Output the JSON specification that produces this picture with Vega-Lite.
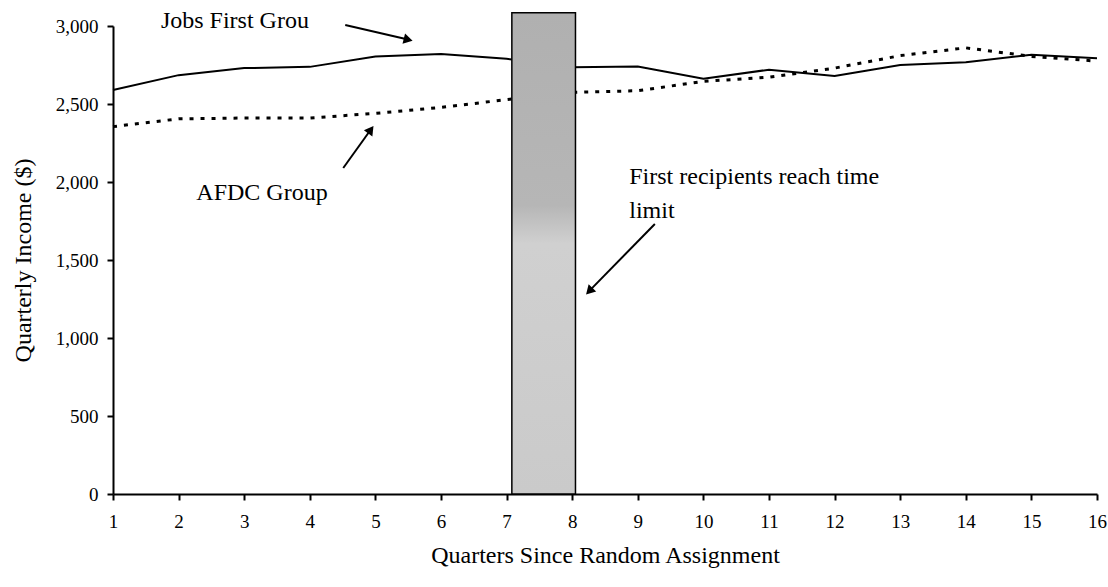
{
  "$schema": "https://vega.github.io/schema/vega-lite/v6.json",
  "width": 984,
  "height": 468,
  "autosize": "none",
  "padding": {"left": 113, "top": 26, "right": 11, "bottom": 93},
  "background": "white",
  "config": {
    "view": {"stroke": null},
    "font": "Liberation Serif",
    "axis": {"grid": false, "domainColor": "black", "domainWidth": 2, "tickColor": "black", "tickWidth": 2, "tickSize": 6, "labelColor": "black", "titleColor": "black", "labelFont": "Liberation Serif", "titleFont": "Liberation Serif", "labelFontSize": 19, "titleFontSize": 24, "titleFontWeight": "normal"}
  },
  "datasets": {
    "income": [
      {"q": 1, "group": "Jobs First", "income": 2590},
      {"q": 2, "group": "Jobs First", "income": 2685},
      {"q": 3, "group": "Jobs First", "income": 2730},
      {"q": 4, "group": "Jobs First", "income": 2738},
      {"q": 5, "group": "Jobs First", "income": 2805},
      {"q": 6, "group": "Jobs First", "income": 2820},
      {"q": 7, "group": "Jobs First", "income": 2790},
      {"q": 8, "group": "Jobs First", "income": 2735},
      {"q": 9, "group": "Jobs First", "income": 2740},
      {"q": 10, "group": "Jobs First", "income": 2662},
      {"q": 11, "group": "Jobs First", "income": 2720},
      {"q": 12, "group": "Jobs First", "income": 2680},
      {"q": 13, "group": "Jobs First", "income": 2750},
      {"q": 14, "group": "Jobs First", "income": 2768},
      {"q": 15, "group": "Jobs First", "income": 2816},
      {"q": 16, "group": "Jobs First", "income": 2794},
      {"q": 1, "group": "AFDC", "income": 2355},
      {"q": 2, "group": "AFDC", "income": 2405},
      {"q": 3, "group": "AFDC", "income": 2410},
      {"q": 4, "group": "AFDC", "income": 2410},
      {"q": 5, "group": "AFDC", "income": 2440},
      {"q": 6, "group": "AFDC", "income": 2478},
      {"q": 7, "group": "AFDC", "income": 2528},
      {"q": 8, "group": "AFDC", "income": 2575},
      {"q": 9, "group": "AFDC", "income": 2585},
      {"q": 10, "group": "AFDC", "income": 2645},
      {"q": 11, "group": "AFDC", "income": 2672},
      {"q": 12, "group": "AFDC", "income": 2730},
      {"q": 13, "group": "AFDC", "income": 2810},
      {"q": 14, "group": "AFDC", "income": 2860},
      {"q": 15, "group": "AFDC", "income": 2805},
      {"q": 16, "group": "AFDC", "income": 2775}
    ],
    "band": [{"start": 7.08, "end": 8.05, "bottom": 0, "top": 3085}]
  },
  "layer": [
    {
      "data": {"name": "income"},
      "transform": [{"filter": "datum.group === 'Jobs First'"}],
      "mark": {"type": "line", "color": "black", "strokeWidth": 2},
      "encoding": {
        "x": {"field": "q", "type": "quantitative", "title": "Quarters Since Random Assignment",
              "scale": {"domain": [1, 16], "nice": false, "zero": false},
              "axis": {"values": [1,2,3,4,5,6,7,8,9,10,11,12,13,14,15,16], "labelExpr": "format(datum.value, 'd')", "labelPadding": 12, "titlePadding": 12, "labelFlush": false,
                       "encode": {"ticks": {"update": {"y": {"value": -7}}}}}},
        "y": {"field": "income", "type": "quantitative", "title": "Quarterly Income ($)",
              "scale": {"domain": [0, 3000], "nice": false},
              "axis": {"values": [0,500,1000,1500,2000,2500,3000], "labelExpr": "format(datum.value, ',')", "labelPadding": 9, "titlePadding": 20,
                       "encode": {"ticks": {"update": {"x": {"value": 7}}}}}}
      }
    },
    {
      "data": {"name": "income"},
      "transform": [{"filter": "datum.group === 'AFDC'"}],
      "mark": {"type": "line", "color": "black", "strokeWidth": 3, "strokeDash": [4, 7]},
      "encoding": {
        "x": {"field": "q", "type": "quantitative"},
        "y": {"field": "income", "type": "quantitative"}
      }
    },
    {
      "data": {"name": "band"},
      "mark": {"type": "rect", "stroke": "black", "strokeWidth": 1.5,
               "fill": {"gradient": "linear", "x1": 0, "y1": 0, "x2": 0, "y2": 1,
                        "stops": [{"offset": 0, "color": "#b0b0b0"}, {"offset": 0.4, "color": "#b6b6b6"}, {"offset": 0.48, "color": "#d0d0d0"}, {"offset": 1, "color": "#cacaca"}]}},
      "encoding": {
        "x": {"field": "start", "type": "quantitative"},
        "x2": {"field": "end"},
        "y": {"field": "bottom", "type": "quantitative"},
        "y2": {"field": "top"}
      }
    },
    {
      "data": {"values": [{"label": "Jobs First Grou"}]},
      "mark": {"type": "text", "align": "left", "baseline": "middle", "fontSize": 24, "font": "Liberation Serif", "color": "black"},
      "encoding": {"text": {"field": "label"}, "x": {"datum": 1.73, "type": "quantitative"}, "y": {"datum": 3030, "type": "quantitative"}}
    },
    {
      "data": {"values": [{"label": "AFDC Group"}]},
      "mark": {"type": "text", "align": "left", "baseline": "middle", "fontSize": 24, "font": "Liberation Serif", "color": "black"},
      "encoding": {"text": {"field": "label"}, "x": {"datum": 2.27, "type": "quantitative"}, "y": {"datum": 1930, "type": "quantitative"}}
    },
    {
      "data": {"values": [{"label": "First recipients reach time"}]},
      "mark": {"type": "text", "align": "left", "baseline": "middle", "fontSize": 24, "font": "Liberation Serif", "color": "black"},
      "encoding": {"text": {"field": "label"}, "x": {"datum": 8.87, "type": "quantitative"}, "y": {"datum": 2030, "type": "quantitative"}}
    },
    {
      "data": {"values": [{"label": "limit"}]},
      "mark": {"type": "text", "align": "left", "baseline": "middle", "fontSize": 24, "font": "Liberation Serif", "color": "black"},
      "encoding": {"text": {"field": "label"}, "x": {"datum": 8.87, "type": "quantitative"}, "y": {"datum": 1815, "type": "quantitative"}}
    },
    {
      "data": {"values": [{"x": 4.54, "y": 3006, "x2": 5.48, "y2": 2915}, {"x": 4.51, "y": 2090, "x2": 4.92, "y2": 2330}, {"x": 9.26, "y": 1731, "x2": 8.28, "y2": 1310}]},
      "mark": {"type": "rule", "color": "black", "strokeWidth": 2},
      "encoding": {"x": {"field": "x", "type": "quantitative"}, "y": {"field": "y", "type": "quantitative"}, "x2": {"field": "x2"}, "y2": {"field": "y2"}}
    },
    {
      "data": {"values": [{"x": 5.5, "y": 2912, "a": 104}, {"x": 4.93, "y": 2335, "a": 36}, {"x": 8.26, "y": 1300, "a": 224}]},
      "mark": {"type": "point", "shape": "triangle-up", "filled": true, "color": "black", "size": 110, "opacity": 1},
      "encoding": {"x": {"field": "x", "type": "quantitative"}, "y": {"field": "y", "type": "quantitative"}, "angle": {"field": "a", "type": "quantitative", "scale": null}}
    }
  ]
}
